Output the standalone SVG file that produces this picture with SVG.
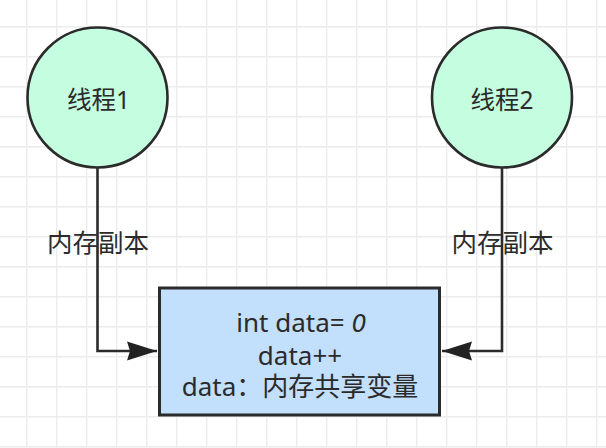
<svg xmlns="http://www.w3.org/2000/svg" width="606" height="448" viewBox="0 0 606 448">
  <defs>
    <pattern id="grid" x="26" y="26" width="30" height="30" patternUnits="userSpaceOnUse">
      <path d="M0.7,0 V30 M0,0.7 H30" fill="none" stroke="#ececec" stroke-width="1.4"/>
    </pattern>
    <marker id="arrow" viewBox="0 0 30 20" refX="30" refY="10" markerWidth="30" markerHeight="20" markerUnits="userSpaceOnUse" orient="auto">
      <path d="M0,0.5 L30,10 L0,19.5 L3,10 Z" fill="#222"/>
    </marker>
  </defs>
  <style>
    .node-c { fill: #c4fddf; stroke: #2b2b2b; stroke-width: 2.6; }
    .node-r { fill: #c2dffc; stroke: #2b2b2b; stroke-width: 3; }
    .edge { fill: none; stroke: #2b2b2b; stroke-width: 2.6; }
    text { font-family: "Noto Sans", "Noto Sans CJK SC", sans-serif; fill: #2b2b2b; text-anchor: middle; dominant-baseline: central; }
    .t24 { font-size: 24.5px; }
    .lbl { font-size: 25.5px; }
    .t26 { font-size: 26px; }
  </style>
  <rect width="606" height="448" fill="#ffffff"/>
  <rect width="606" height="448" fill="url(#grid)"/>

  <g id="connectors">
    <path class="edge" d="M97.5,168 V351 H157" marker-end="url(#arrow)"/>
    <path class="edge" d="M502,168 V351 H442" marker-end="url(#arrow)"/>
    <text class="lbl" x="98" y="241.5">内存副本</text>
    <text class="lbl" x="502.5" y="241.5">内存副本</text>
  </g>

  <g id="thread1">
    <circle class="node-c" cx="97.5" cy="97.5" r="70"/>
    <text class="t24" x="98.5" y="99">线程1</text>
  </g>

  <g id="thread2">
    <circle class="node-c" cx="502" cy="97.5" r="70"/>
    <text class="t24" x="502" y="99">线程2</text>
  </g>

  <g id="shared">
    <rect class="node-r" x="159.5" y="288" width="280" height="127"/>
    <text class="t26" x="301" y="322">int data= <tspan font-style="italic">0</tspan></text>
    <text class="t26" x="300" y="354.5">data++</text>
    <text class="t26" x="300" y="385.5">data：内存共享变量</text>
  </g>
</svg>
